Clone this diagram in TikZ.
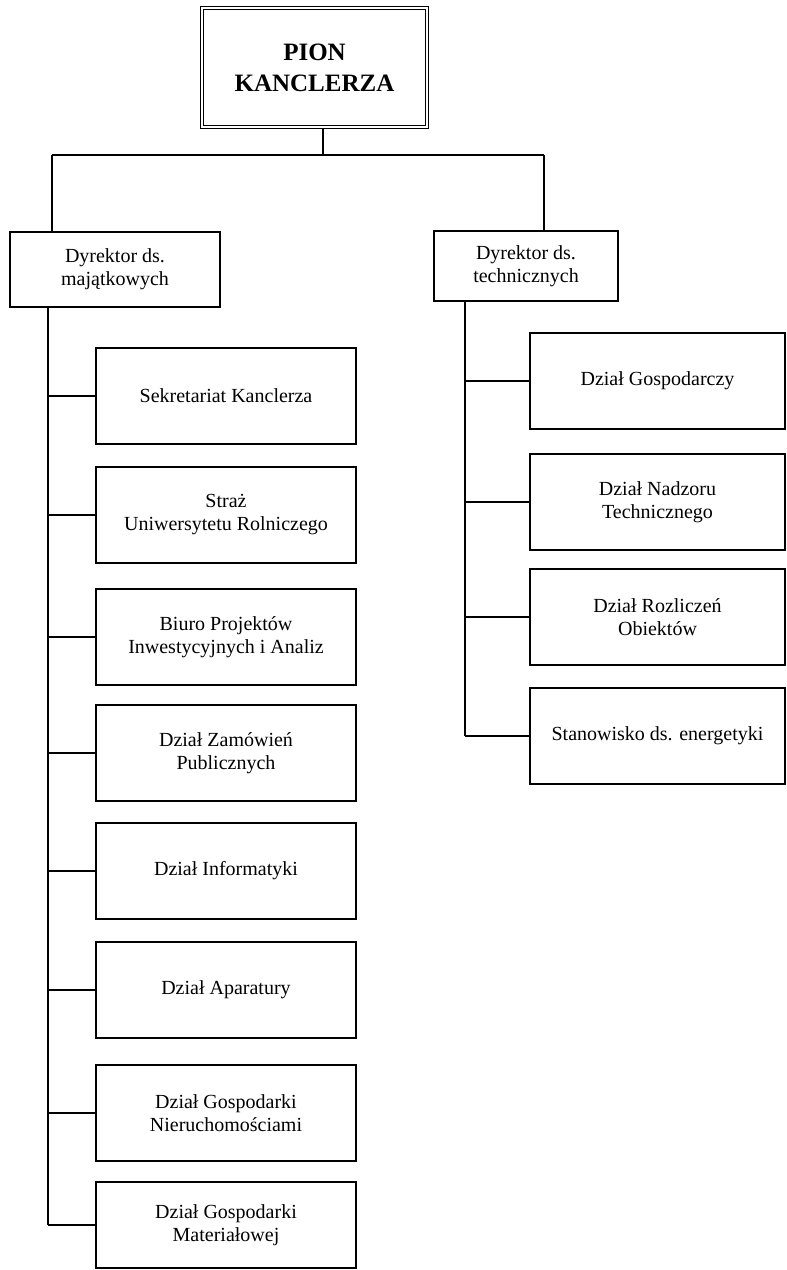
\documentclass[tikz,border=0pt]{standalone}
\usepackage{fontspec}
\setmainfont{Liberation Serif}
\usepackage{tikz}

\begin{document}
\begin{tikzpicture}[x=1pt,y=-1pt,
    box/.style={draw=black,line width=1.3pt,align=center,inner sep=0pt,
      font=\fontsize{20}{23}\selectfont},
    unit/.style={box,minimum width=260pt,minimum height=96pt},
    tunit/.style={box,minimum width=255pt,minimum height=96pt},
    line/.style={black,line width=1.3pt}]
                \useasboundingbox (0,0) rectangle (787,1270);

                \node[box,double,double distance=2.5pt,line width=1pt,
                  minimum width=225pt,minimum height=119pt,
                  font=\fontsize{25}{31}\selectfont\bfseries] (pion) at (314.5,67.5) {PION\\KANCLERZA};

                \node[box,minimum width=210pt,minimum height=75pt] (dm) at (115,269.5) {Dyrektor ds.\\majątkowych};
                \node[box,minimum width=184pt,minimum height=70pt] (dt) at (526,266) {Dyrektor ds.\\technicznych};

                \node[unit] (m1) at (226,396) {Sekretariat Kanclerza};
                \node[unit] (m2) at (226,515) {Straż\\Uniwersytetu Rolniczego};
                \node[unit] (m3) at (226,637) {Biuro Projektów\\Inwestycyjnych i Analiz};
                \node[unit] (m4) at (226,753) {Dział Zamówień\\Publicznych};
                \node[unit] (m5) at (226,871) {Dział Informatyki};
                \node[unit] (m6) at (226,990) {Dział Aparatury};
                \node[unit] (m7) at (226,1113) {Dział Gospodarki\\Nieruchomościami};
                \node[unit,minimum height=86pt] (m8) at (226,1225) {Dział Gospodarki\\Materiałowej};

                \node[tunit] (t1) at (657.5,381) {Dział Gospodarczy};
                \node[tunit] (t2) at (657.5,502) {Dział Nadzoru\\Technicznego};
                \node[tunit] (t3) at (657.5,617) {Dział Rozliczeń\\Obiektów};
                \node[tunit] (t4) at (657.5,736) {Stanowisko ds. energetyki};

                \coordinate (bus) at (323,155);
                \coordinate (busL) at (52,155);
                \coordinate (busR) at (544,155);
                \coordinate (spL) at (48,0);
                \coordinate (spR) at (465,0);

                \draw[line] (pion.south -| bus) -- (bus);
                \draw[line] (busL) -- (busR);
                \draw[line] (busL) -- (busL |- dm.north);
                \draw[line] (busR) -- (busR |- dt.north);

                \draw[line] (spL |- dm.south) -- (spL |- m8.west);
                \draw[line] (spL |- m1.west) -- (m1.west);
                \draw[line] (spL |- m2.west) -- (m2.west);
                \draw[line] (spL |- m3.west) -- (m3.west);
                \draw[line] (spL |- m4.west) -- (m4.west);
                \draw[line] (spL |- m5.west) -- (m5.west);
                \draw[line] (spL |- m6.west) -- (m6.west);
                \draw[line] (spL |- m7.west) -- (m7.west);
                \draw[line] (spL |- m8.west) -- (m8.west);

                \draw[line] (spR |- dt.south) -- (spR |- t4.west);
                \draw[line] (spR |- t1.west) -- (t1.west);
                \draw[line] (spR |- t2.west) -- (t2.west);
                \draw[line] (spR |- t3.west) -- (t3.west);
                \draw[line] (spR |- t4.west) -- (t4.west);
            \end{tikzpicture}
\end{document}
